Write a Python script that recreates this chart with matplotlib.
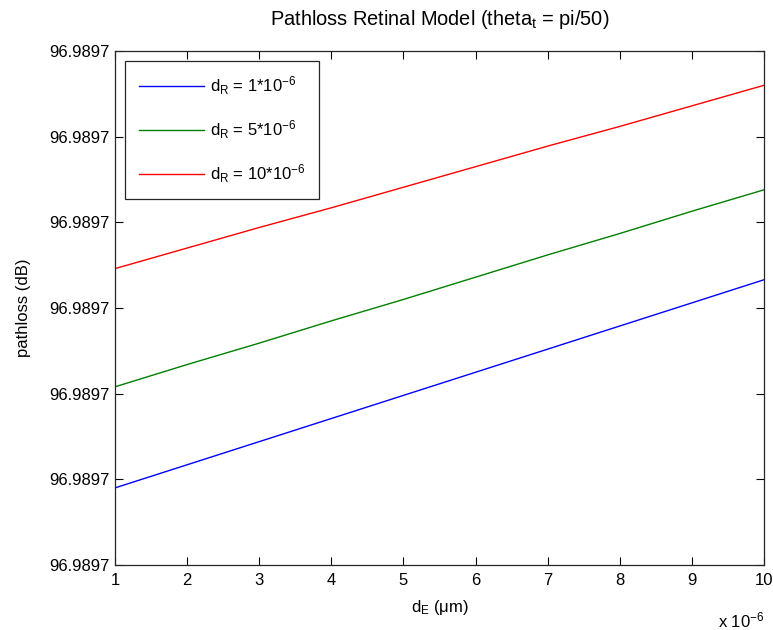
import matplotlib
matplotlib.use("Agg")
import matplotlib.pyplot as plt

plt.rcParams['font.family'] = ['Liberation Sans', 'DejaVu Sans']
plt.rcParams['mathtext.default'] = 'regular'
plt.rcParams['font.size'] = 12

# d_E in units of 1e-6 (axis shows "x 10^-6")
d_e = [1, 2, 3, 4, 5, 6, 7, 8, 9, 10]

# pathloss, in tick steps above the bottom tick (all ticks read 96.9897)
pl_dr1 = [0.90, 1.17, 1.44, 1.71, 1.98, 2.25, 2.52, 2.79, 3.06, 3.33]
pl_dr5 = [2.08, 2.34, 2.59, 2.85, 3.10, 3.36, 3.62, 3.87, 4.13, 4.38]
pl_dr10 = [3.46, 3.70, 3.94, 4.17, 4.41, 4.65, 4.89, 5.12, 5.36, 5.60]

labels = [r'd$_R$ = 1*10$^{-6}$', r'd$_R$ = 5*10$^{-6}$', r'd$_R$ = 10*10$^{-6}$']
ytick_pos = [0, 1, 2, 3, 4, 5, 6]
ytick_labels = ['96.9897'] * 7

fig = plt.figure(figsize=(7.73, 6.3), dpi=100)
ax = fig.add_axes([0.1488, 0.1032, 0.8396, 0.8158])

ax.plot(d_e, pl_dr1, color='#0000ff', lw=1.0, label=labels[0])
ax.plot(d_e, pl_dr5, color='#008000', lw=1.0, label=labels[1])
ax.plot(d_e, pl_dr10, color='#ff0000', lw=1.0, label=labels[2])

ax.set_xlim(1, 10)
ax.set_ylim(0, 6)
ax.set_xticks(d_e)
ax.set_yticks(ytick_pos)
ax.set_yticklabels(ytick_labels)
ax.tick_params(direction='in', length=5.5, width=0.8, top=True, right=True, pad=4)
ax.tick_params(axis='x', pad=6)
for s in ax.spines.values():
    s.set_linewidth(0.9)
    s.set_color('#262626')

ax.set_title(r'Pathloss Retinal Model (theta$_t$ = pi/50)', pad=19)
ax.set_xlabel(r'd$_E$ ($\mu$m)', labelpad=7)
ax.set_ylabel('pathloss (dB)', labelpad=13)
ax.text(1.0, -0.108, r'x 10$^{-6}$', transform=ax.transAxes, ha='right', va='center')

leg = ax.legend(loc='upper left', bbox_to_anchor=(0.016, 0.981), fancybox=False,
                framealpha=1, edgecolor='#262626', handlelength=3.9, handletextpad=0.4,
                labelspacing=1.3, borderpad=0.8, borderaxespad=0)
leg.get_frame().set_linewidth(0.9)

fig.savefig('out.png', dpi=100)
